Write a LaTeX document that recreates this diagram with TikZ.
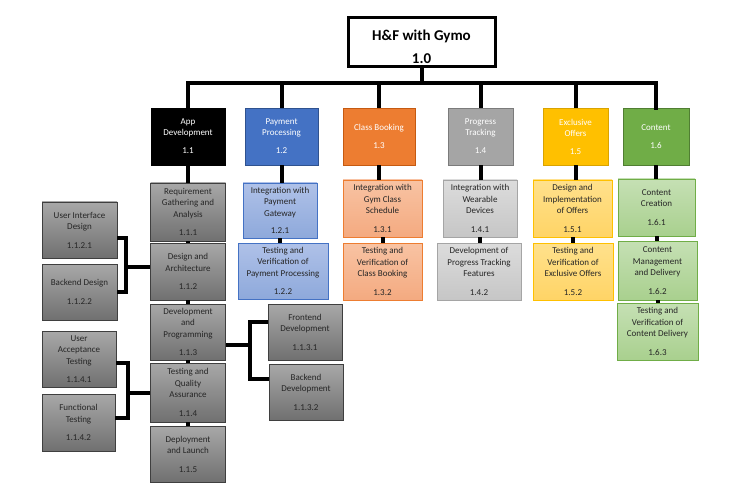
\documentclass[tikz,border=0pt]{standalone}
\usepackage{fontspec}
\setmainfont{Carlito}
\usetikzlibrary{calc}
\tikzset{
  conn/.style={line width=4pt},
  sz/.style 2 args={minimum width=#1pt, minimum height=#2pt},
  rootbox/.style={rectangle, draw, line width=3pt, fill=white, align=center, inner sep=1pt,
    font=\fontsize{15}{23}\selectfont\bfseries},
  lvl/.style={rectangle, draw, line width=0.8pt, align=center, inner sep=1pt,
    font=\fontsize{9}{11}\selectfont, text=white},
  sub/.style={rectangle, draw, line width=0.8pt, align=center, inner sep=1pt,
    font=\fontsize{9}{11.5}\selectfont, text=black!85},
  appL/.style={lvl, fill=black, draw=black},
  payL/.style={lvl, fill=payC, draw=payD},
  clsL/.style={lvl, fill=clsC, draw=clsD},
  prgL/.style={lvl, fill=prgC, draw=prgD},
  excL/.style={lvl, fill=excC, draw=excD},
  cntL/.style={lvl, fill=cntC, draw=cntD},
  appS/.style={sub, top color=appT, bottom color=appB, draw=appD},
  payS/.style={sub, top color=payT, bottom color=payB, draw=payC},
  clsS/.style={sub, top color=clsT, bottom color=clsB, draw=clsC},
  prgS/.style={sub, top color=prgT, bottom color=prgB, draw=prgC},
  excS/.style={sub, top color=excT, bottom color=excB, draw=excC},
  cntS/.style={sub, top color=cntT, bottom color=cntB, draw=cntC},
}
\definecolor{payC}{HTML}{4472C4}\definecolor{payD}{HTML}{2F528F}
\definecolor{payT}{HTML}{AFC1E8}\definecolor{payB}{HTML}{8EA9DB}
\definecolor{clsC}{HTML}{ED7D31}\definecolor{clsD}{HTML}{C55A11}
\definecolor{clsT}{HTML}{F8C3A3}\definecolor{clsB}{HTML}{F4AA80}
\definecolor{prgC}{HTML}{A5A5A5}\definecolor{prgD}{HTML}{7B7B7B}
\definecolor{prgT}{HTML}{DCDCDC}\definecolor{prgB}{HTML}{C6C6C6}
\definecolor{excC}{HTML}{FFC000}\definecolor{excD}{HTML}{D9A300}
\definecolor{excT}{HTML}{FFE18C}\definecolor{excB}{HTML}{FFD466}
\definecolor{cntC}{HTML}{70AD47}\definecolor{cntD}{HTML}{507E32}
\definecolor{cntT}{HTML}{C5E0B4}\definecolor{cntB}{HTML}{A9D08E}
\definecolor{appT}{HTML}{A8A8A8}\definecolor{appB}{HTML}{707070}
\definecolor{appD}{HTML}{3F3F3F}
\begin{document}
\begin{tikzpicture}[x=1pt,y=-1pt]
\useasboundingbox[fill=white] (0,0) rectangle (734,492);

% root
\node[rootbox, sz={147}{49}] (root) at (421.5,42.5) {\rule{0pt}{19pt}H\&F with Gymo\\1.0};

% level 1
\node[appL, sz={74}{57}] (n11) at (188,136.5) {App\\Development\\[7pt]1.1};
\node[payL, sz={73}{57}] (n12) at (281.5,136.5) {Payment\\Processing\\[7pt]1.2};
\node[clsL, sz={72}{57}] (n13) at (379,136.5) {Class Booking\\[7pt]1.3};
\node[prgL, sz={65}{57}] (n14) at (480.5,136.5) {Progress\\Tracking\\[7pt]1.4};
\node[excL, sz={65}{57}] (n15) at (575.5,136.5) {Exclusive\\Offers\\[7pt]1.5};
\node[cntL, sz={66}{57}] (n16) at (656,136.5) {Content\\[7pt]1.6};

% level 2 - app development
\node[appS, sz={75}{58}] (n111) at (188,212) {Requirement\\Gathering and\\Analysis\\[7pt]1.1.1};
\node[appS, sz={75}{57}] (n112) at (188,271.5) {Design and\\Architecture\\[7pt]1.1.2};
\node[appS, sz={75}{56}] (n113) at (188,332) {Development\\and\\Programming\\[7pt]1.1.3};
\node[appS, sz={75}{59}] (n114) at (188,392.5) {Testing and\\Quality\\Assurance\\[7pt]1.1.4};
\node[appS, sz={75}{56}] (n115) at (188,454) {Deployment\\and Launch\\[7pt]1.1.5};

% payment
\node[payS, sz={74}{55}] (n121) at (280,210.5) {Integration with\\Payment\\Gateway\\[6pt]1.2.1};
\node[payS, sz={90}{56}] (n122) at (283,271) {Testing and\\Verification of\\Payment Processing\\[7pt]1.2.2};

% class booking
\node[clsS, sz={79}{57}] (n131) at (382.5,208.5) {Integration with\\Gym Class\\Schedule\\[7pt]1.3.1};
\node[clsS, sz={79}{57}] (n132) at (382.5,271.5) {Testing and\\Verification of\\Class Booking\\[7pt]1.3.2};

% progress
\node[prgS, sz={74}{57}] (n141) at (480,208.5) {Integration with\\Wearable\\Devices\\[7pt]1.4.1};
\node[prgS, sz={84}{57}] (n142) at (479,271.5) {Development of\\Progress Tracking\\Features\\[7pt]1.4.2};

% exclusive
\node[excS, sz={79}{57}] (n151) at (572.5,208.5) {Design and\\Implementation\\of Offers\\[7pt]1.5.1};
\node[excS, sz={80}{57}] (n152) at (573,271.5) {Testing and\\Verification of\\Exclusive Offers\\[7pt]1.5.2};

% content
\node[cntS, sz={77}{57}] (n161) at (656.5,207.5) {Content\\Creation\\[7pt]1.6.1};
\node[cntS, sz={79}{59}] (n162) at (657.5,270.5) {Content\\Management\\and Delivery\\[7pt]1.6.2};
\node[cntS, sz={81}{57}] (n163) at (657.5,331.5) {Testing and\\Verification of\\Content Delivery\\[7pt]1.6.3};

% level 3
\node[appS, sz={75}{56}] (n1121) at (79.5,230) {User Interface\\Design\\[7pt]1.1.2.1};
\node[appS, sz={75}{56}] (n1122) at (79.5,292) {Backend Design\\[7pt]1.1.2.2};
\node[appS, sz={74}{56}] (n1131) at (305,332) {Frontend\\Development\\[7pt]1.1.3.1};
\node[appS, sz={74}{56}] (n1132) at (306,392) {Backend\\Development\\[7pt]1.1.3.2};
\node[appS, sz={74}{56}] (n1141) at (79,359) {User\\Acceptance\\Testing\\[7pt]1.1.4.1};
\node[appS, sz={73}{57}] (n1142) at (78.5,422.5) {Functional\\Testing\\[7pt]1.1.4.2};

% connectors: root to level 1
\coordinate (hub) at (421.5,83);
\draw[conn] (root.south) -- (hub);
\draw[conn] (hub) -| (n12.north);
\draw[conn] (hub) -| (n13.north);
\draw[conn] (hub) -| (n14.north);
\draw[conn] (hub) -| (n15.north);
\draw[conn, line cap=rect] (n11.north) |- (hub) -| (n16.north);

% level 1 to first child
\draw[conn] (n11.south) -- (n11.south |- n111.north);
\draw[conn] (n12.south) -- (n12.south |- n121.north);
\draw[conn] (n13.south) -- (n13.south |- n131.north);
\draw[conn] (n14.south) -- (n14.south |- n141.north);
\draw[conn] (n15.south) -- (n15.south |- n151.north);
\draw[conn] (n16.south) -- (n16.south |- n161.north);

% stacked children
\draw[conn] (n111.south) -- (n112.north);
\draw[conn] (n112.south) -- (n113.north);
\draw[conn] (n113.south) -- (n114.north);
\draw[conn] (n114.south) -- (n115.north);
\draw[conn] (n121.south) -- (n121.south |- n122.north);
\draw[conn] (n131.south) -- (n131.south |- n132.north);
\draw[conn] (n141.south) -- (n141.south |- n142.north);
\draw[conn] (n151.south) -- (n151.south |- n152.north);
\draw[conn] (n161.south) -- (n161.south |- n162.north);
\draw[conn] (n162.south) -- (n162.south |- n163.north);

% level 3 brackets
\draw[conn] ([yshift=5pt]n112.west) -- ++(-24,0);
\draw[conn] ([yshift=-8pt]n1121.east) -| ($([yshift=5pt]n112.west)+(-24,0)$) |- (n1122.east);
\draw[conn] (n114.west) -- ++(-22,0);
\draw[conn] ([yshift=-4pt]n1141.east) -| ($(n114.west)+(-22,0)$) |- ([yshift=4.5pt]n1142.east);
\draw[conn] ([yshift=-13pt]n113.east) -- ++(24,0);
\draw[conn] ([yshift=10pt]n1131.west) -| ($([yshift=-13pt]n113.east)+(24,0)$) |- ([yshift=13pt]n1132.west);
\end{tikzpicture}
\end{document}
